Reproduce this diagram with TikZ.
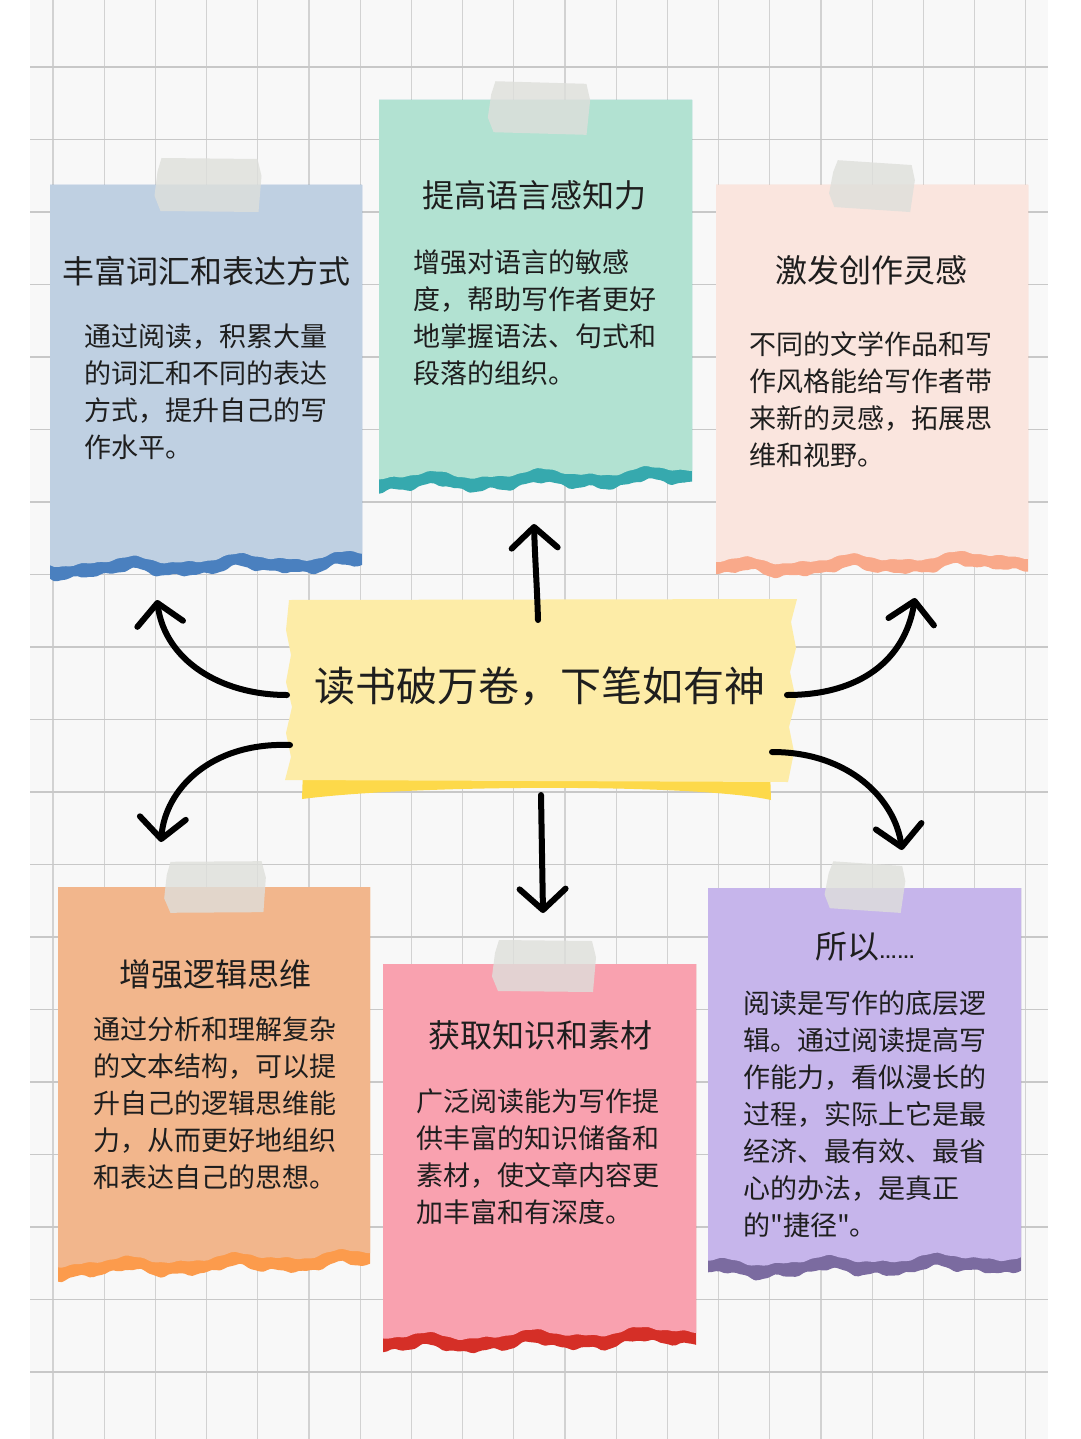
\documentclass[tikz,border=0pt]{standalone}
\usepackage{fontspec}
\setmainfont{Noto Sans CJK SC}
\newfontfamily\rawcjk{Noto Sans CJK SC}[Ligatures=TeXOff]
\newfontfamily\latinf{Liberation Sans}
\usetikzlibrary{arrows.meta}
\definecolor{gridbg}{RGB}{248,248,248}
\definecolor{hlinec}{RGB}{200,200,200}
\definecolor{vlinec}{RGB}{210,210,210}
\definecolor{inkc}{RGB}{30,30,30}
\definecolor{cBlue}{RGB}{191,208,226}
\definecolor{eBlue}{RGB}{74,128,191}
\definecolor{cTeal}{RGB}{178,226,210}
\definecolor{eTeal}{RGB}{54,169,174}
\definecolor{cPeach}{RGB}{250,229,222}
\definecolor{ePeach}{RGB}{249,169,138}
\definecolor{cOrange}{RGB}{242,182,140}
\definecolor{eOrange}{RGB}{252,155,76}
\definecolor{cPink}{RGB}{249,161,175}
\definecolor{ePink}{RGB}{213,47,39}
\definecolor{cPurple}{RGB}{198,181,235}
\definecolor{ePurple}{RGB}{123,107,160}
\definecolor{cYellow}{RGB}{253,236,167}
\definecolor{eYellow}{RGB}{253,217,74}
\definecolor{tapec}{RGB}{222,223,219}
\newcommand\qmark{{\rawcjk\symbol{34}}}
\newcommand\papercard[8]{%
  \fill[#8] (#1,#3) -- (#2,#3) -- plot[domain=#2:#1, samples=80, smooth]
    (\x,{#4 + #5*(#2-\x)/(#2-#1) + 3.5*sin(3.2*(\x-#1)+#6) + 1.5*sin(7*(\x-#1)+2*#6) + 13 + 1.5*sin(11*(\x-#1)+#6) + 0.6*sin(25*(\x-#1))}) -- cycle;
  \fill[#7] (#1,#3) -- (#2,#3) -- plot[domain=#2:#1, samples=80, smooth]
    (\x,{#4 + #5*(#2-\x)/(#2-#1) + 3.5*sin(3.2*(\x-#1)+#6) + 1.5*sin(7*(\x-#1)+2*#6) + 0.6*sin(20*(\x-#1))}) -- cycle;
}
\newcommand\tapepiece[5]{%
  \fill[tapec, fill opacity=0.8, shift={(#1,#2)}, rotate=#5]
    (-#3/2+7,-#4/2) -- (#3/2-4,-#4/2+1) -- (#3/2,-#4/6) -- (#3/2-3,#4/2)
    -- (-#3/2+6,#4/2-1) -- (-#3/2,#4/5) -- (-#3/2+3,-#4/4) -- cycle;
}
\begin{document}
\begin{tikzpicture}[x=1pt,y=-1pt,
  title/.style={font=\fontsize{32}{32}\selectfont, text=inkc, inner sep=0pt},
  body/.style={font=\fontsize{27}{37}\selectfont, align=left, anchor=north west, text=inkc, inner sep=0pt},
  arr/.style={line width=6pt, line cap=round, draw=black,
    -{Straight Barb[length=21pt,width=46pt,round]}}]
\useasboundingbox (0,0) rectangle (1080,1439);
\fill[white] (0,0) rectangle (1080,1439);
% grid paper
\fill[gridbg] (30,0) rectangle (1048,1439);
\foreach \i in {0,...,19} \draw[vlinec, line width=1.2pt] ({53+51.2*\i},0) -- ({53+51.2*\i},1439);
\foreach \i in {0,...,18} \draw[hlinec, line width=1.4pt] (30,{67+72.5*\i}) -- (1048,{67+72.5*\i});
% cards
\papercard{50}{362}{185}{555}{8}{20}{cBlue}{eBlue}
\papercard{379}{692}{100}{470}{7}{110}{cTeal}{eTeal}
\papercard{716}{1028}{185}{554}{8}{200}{cPeach}{ePeach}
\papercard{58}{370}{887}{1253}{10}{60}{cOrange}{eOrange}
\papercard{383}{696}{964}{1330}{8}{150}{cPink}{ePink}
\papercard{708}{1021}{888}{1256}{7}{250}{cPurple}{ePurple}
% tapes
\tapepiece{208}{185}{107}{54}{0}
\tapepiece{539}{108}{102}{52}{-1}
\tapepiece{872}{186}{85}{48}{-3}
\tapepiece{215}{887}{102}{52}{1}
\tapepiece{544}{966}{104}{52}{0}
\tapepiece{865}{887}{80}{48}{-3}
% central note
\fill[eYellow] (303,770) -- (770,770) -- (771,800) .. controls (700,784) and (420,784) .. (302,799) -- cycle;
\fill[cYellow] (289,600) -- (797,599) -- (791,622) -- (796,648) -- (790,672) -- (796,700) -- (789,727)
  -- (794,752) -- (788,782) -- (285,780) -- (291,757) -- (286,733) -- (292,707) -- (286,682)
  -- (291,655) -- (286,630) -- cycle;
\node[font=\fontsize{41}{41}\selectfont, text=inkc, inner sep=0pt] (hub) at (540,686) {读书破万卷，下笔如有神};
% arrow end points
\coordinate (tls) at (287,695);  \coordinate (tle) at (157,600);
\coordinate (trs) at (787,695);  \coordinate (tre) at (915,598);
\coordinate (bls) at (290,745);  \coordinate (ble) at (161,842);
\coordinate (brs) at (772,752);  \coordinate (bre) at (902,850);
\coordinate (ups) at (538,620);  \coordinate (upe) at (534,524);
\coordinate (dns) at (541,795);  \coordinate (dne) at (543,913);
\draw[arr] (tls) .. controls (220,695) and (165,660) .. (tle);
\draw[arr] (trs) .. controls (860,695) and (905,660) .. (tre);
\draw[arr] (bls) .. controls (210,742) and (165,790) .. (ble);
\draw[arr] (brs) .. controls (850,752) and (895,800) .. (bre);
\draw[arr] (ups) .. controls (537,585) and (535,560) .. (upe);
\draw[arr] (dns) -- (dne);
% card texts
\node[title] (t1) at (206,271) {丰富词汇和表达方式};
\node[body] (b1) at (84,324) {通过阅读，积累大量\\的词汇和不同的表达\\方式，提升自己的写\\作水平。};
\node[title] (t2) at (534,195) {提高语言感知力};
\node[body] (b2) at (413,250) {增强对语言的敏感\\度，帮助写作者更好\\地掌握语法、句式和\\段落的组织。};
\node[title] (t3) at (871,270) {激发创作灵感};
\node[body] (b3) at (749,331) {不同的文学作品和写\\作风格能给写作者带\\来新的灵感，拓展思\\维和视野。};
\node[title] (t4) at (215,974) {增强逻辑思维};
\node[body] (b4) at (93,1017) {通过分析和理解复杂\\的文本结构，可以提\\升自己的逻辑思维能\\力，从而更好地组织\\和表达自己的思想。};
\node[title] (t5) at (540,1035) {获取知识和素材};
\node[body] (b5) at (416,1089) {广泛阅读能为写作提\\供丰富的知识储备和\\素材，使文章内容更\\加丰富和有深度。};
\node[title] (t6) at (865,947) {所以{\latinf\bfseries\fontsize{18}{18}\selectfont ……}};
\node[body] (b6) at (743,990) {阅读是写作的底层逻\\辑。通过阅读提高写\\作能力，看似漫长的\\过程，实际上它是最\\经济、最有效、最省\\心的办法，是真正\\的\qmark 捷径\qmark 。};
\end{tikzpicture}
\end{document}
